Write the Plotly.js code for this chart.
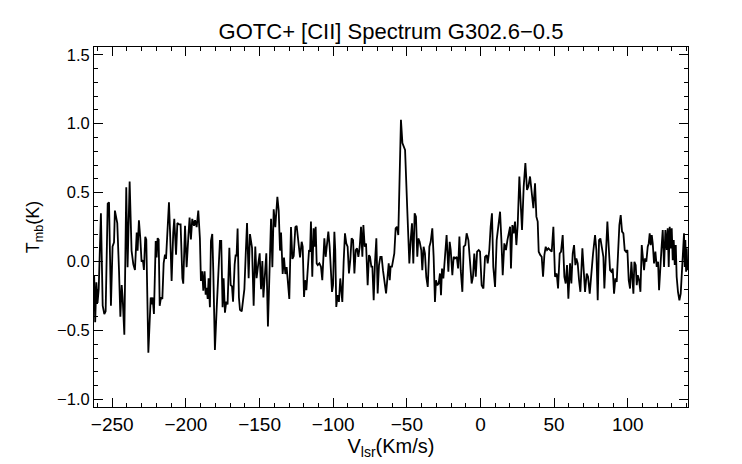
<!DOCTYPE html>
<html>
<head>
<meta charset="utf-8">
<script src="https://cdn.plot.ly/plotly-3.0.1.min.js"></script>
<style>html,body{margin:0;padding:0;background:#fff;}#chart{width:742px;height:464px;}</style>
</head>
<body>
<div id="chart"></div>
<script>
// Velocity channels (km/s)
const velocity = [
-262.3,-261.6,-260.8,-260.0,-259.2,-258.5,-257.7,-256.5,-255.4,-254.5,-253.1,-252.2,-250.9,-249.8,-248.8,-248.2,-247.0,-246.6,-245.4,-244.5,-243.6,-242.96,-241.8,-240.5,-239.6,-238.2,-236.9,-235.7,-234.6,-233.4,-232.8,-231.9,-230.97,-230.1,-229.2,-228.5,-227.6,-226.9,-225.5,-223.9,-223.3,-222.6,-221.7,-220.5,-219.9,-219.2,-218.5,-217.8,-216.9,-216.0,-215.1,-214.2,-213.5,-212.6,-211.5,-210.6,-209.7,-208.6,-207.9,-206.7,-205.8,-204.7,-203.6,-202.4,-201.8,-200.6,-199.5,-198.4,-197.5,-196.6,-195.7,-194.5,-193.8,
-192.7,-191.6,-190.5,-189.8,-188.9,-188.2,-187.3,-186.6,-185.9,-185.2,-184.6,-183.7,-183.0,-182.1,-181.4,-180.3,-179.1,-178.0,-176.9,-176.0,-175.1,-174.4,-173.5,-172.6,-171.7,-170.5,-169.6,-168.7,-168.0,-166.9,-166.2,-165.6,-164.9,-164.0,-163.3,-162.1,-161.0,-160.3,-159.4,-158.5,-157.4,-156.5,-155.1,-154.0,-152.9,-152.0,-150.8,-149.9,-149.0,-148.1,-147.4,-146.3,-145.4,-144.3,-143.4,-142.2,-141.3,-140.4,-139.3,-137.9,-137.0,-136.1,-135.4,-134.3,-133.4,-132.5,-131.6,-130.5,-129.8,-128.65,-127.7,-126.8,-125.7,-124.8,-123.7,-122.5,
-121.4,-120.7,-119.8,-119.1,-118.2,-117.3,-116.4,-115.7,-115.1,-114.2,-113.3,-112.6,-111.9,-111.2,-110.5,-109.4,-108.3,-107.4,-106.0,-105.1,-104.2,-103.3,-102.4,-101.5,-100.8,-100.1,-99.2,-98.6,-97.9,-97.0,-96.1,-95.2,-94.5,-93.8,-92.9,-92.0,-91.1,-90.2,-89.3,-88.4,-87.5,-86.5,-85.6,-84.7,-83.8,-82.9,-82.0,-81.1,-80.2,-79.5,-78.6,-77.7,-76.6,-75.7,-75.0,-74.1,-73.4,-72.5,-71.6,-70.7,-69.8,-68.9,-68.0,-67.1,-66.2,-65.3,-64.1,-63.2,-62.3,-61.6,-61.0,-60.1,-59.2,-58.5,-57.6,-56.7,-55.8,-54.9,-54.0,-53.0,-52.1,-51.2,
-49.65,-48.3,-47.4,-46.5,-45.6,-44.7,-43.8,-42.9,-42.2,-41.3,-40.2,-39.5,-38.6,-37.7,-36.8,-35.8,-34.7,-33.8,-32.7,-31.8,-30.9,-30.2,-29.3,-28.4,-27.5,-26.8,-26.1,-25.2,-24.1,-23.0,-21.8,-20.9,-20.2,-19.1,-18.2,-17.3,-16.1,-15.2,-14.3,-13.4,-12.3,-11.4,-10.3,-9.4,-8.2,-7.1,-6.0,-5.1,-4.2,-3.2,-2.3,-1.2,-0.3,0.8,2.0,3.1,4.2,4.9,6.0,6.9,7.8,8.7,9.9,11.0,12.1,13.3,14.2,15.1,16.2,17.3,18.3,19.2,20.1,
20.7,21.65,22.55,23.46,24.37,25.27,26.4,27.31,28.21,29.35,30.48,31.61,32.52,33.65,34.78,35.91,37.04,37.95,38.85,39.53,40.66,41.57,42.48,43.38,44.29,45.19,46.1,47.0,48.36,49.49,50.62,51.76,52.66,53.79,54.7,55.83,56.96,57.87,58.77,59.68,60.81,61.71,62.62,63.53,64.43,65.11,66.02,66.92,67.83,69.19,70.09,71.0,72.13,73.03,74.17,75.07,76.43,77.79,78.69,79.6,80.5,81.41,82.31,83.45,84.12,
85.25,86.16,87.07,87.97,88.88,89.78,90.69,91.59,92.5,93.4,94.31,95.21,96.12,97.03,97.93,98.84,99.74,100.65,101.55,102.46,103.36,103.82,104.5,105.4,106.1,106.8,107.7,108.6,109.5,110.15,111.06,111.74,112.6,113.55,114.23,114.9,115.6,116.3,116.95,117.85,118.76,119.66,120.57,121.25,121.93,122.83,123.74,124.64,125.55,126.45,127.13,127.81,128.49,129.17,129.85,130.53,131.2,131.9,132.6,133.2,134.1,135.05,135.96,136.87,137.55,138.2,138.7,139.1,139.6,140.0,140.5
];
// Main-beam brightness temperature (K)
const tmb = [
-0.10,-0.44,-0.15,-0.30,-0.20,0.00,0.35,-0.32,-0.38,-0.36,0.42,0.43,-0.32,0.11,0.14,0.37,0.30,0.28,-0.07,-0.40,-0.17,-0.26,-0.53,0.54,-0.04,0.58,0.08,-0.02,-0.06,0.21,0.08,0.30,0.17,0.00,0.01,-0.06,0.18,0.16,-0.66,-0.26,-0.31,-0.26,-0.38,0.15,0.03,0.17,0.16,-0.32,-0.26,-0.27,-0.01,0.05,0.02,0.22,0.43,0.17,-0.14,0.21,0.31,0.05,0.28,0.27,0.27,-0.12,-0.16,0.26,-0.04,0.17,0.32,0.16,0.31,0.26,0.30,
0.25,0.37,0.17,-0.14,-0.07,-0.21,-0.07,-0.24,-0.19,-0.27,-0.12,-0.33,0.15,0.20,-0.07,-0.64,-0.34,-0.07,0.15,0.15,-0.33,-0.12,-0.37,-0.29,-0.31,0.10,-0.17,-0.18,-0.29,-0.02,0.05,0.04,0.24,-0.26,-0.35,-0.36,-0.24,-0.20,0.05,0.28,-0.12,0.20,0.10,-0.32,0.11,-0.12,-0.01,0.06,-0.20,0.005,-0.26,-0.07,0.06,-0.47,-0.03,0.31,-0.04,0.38,0.25,0.47,0.37,0.08,0.21,-0.09,0.03,-0.09,-0.04,-0.17,-0.27,0.25,0.02,0.04,0.25,0.26,0.17,0.03,
0.144,0.108,-0.256,-0.135,-0.207,-0.037,0.084,0.072,0.290,-0.110,0.241,0.108,0.253,-0.013,-0.025,-0.013,-0.037,-0.134,0.169,0.035,0.108,0.217,0.108,-0.159,-0.219,-0.171,0.217,0.084,-0.328,-0.243,-0.292,-0.122,-0.243,-0.292,-0.001,0.205,0.132,0.108,-0.086,0.011,0.169,0.156,-0.086,0.084,0.096,0.035,0.108,0.253,0.035,0.265,0.108,0.132,-0.171,0.047,0.035,-0.037,-0.037,-0.280,-0.001,0.169,-0.231,-0.025,0.035,0.035,-0.062,-0.134,-0.231,-0.122,-0.013,-0.134,-0.037,-0.037,0.035,0.060,0.241,0.253,0.193,0.569,1.029,0.859,0.835,0.810,
0.362,-0.013,0.156,0.278,-0.013,0.350,0.326,0.035,0.168,0.144,0.084,-0.062,0.108,0.059,-0.110,-0.183,0.108,0.144,0.241,0.035,-0.292,-0.135,-0.171,-0.159,-0.086,-0.244,-0.050,-0.122,0.035,0.193,-0.074,0.144,0.084,-0.098,0.035,0.023,0.035,-0.050,0.181,-0.062,-0.219,0.108,0.120,0.205,0.156,-0.013,-0.159,-0.110,0.059,-0.110,0.072,0.084,0.072,-0.171,-0.195,0.035,0.047,-0.013,0.084,0.253,0.350,-0.038,-0.183,0.156,0.265,0.362,0.156,-0.098,0.132,0.084,0.156,0.205,0.253,
-0.050,0.265,0.205,0.290,0.120,0.265,0.617,0.447,0.229,0.544,0.714,0.520,0.544,0.617,0.484,0.387,0.568,0.326,0.290,0.072,0.047,0.035,-0.110,0.047,0.108,0.084,0.096,0.084,0.072,0.253,-0.110,-0.086,-0.195,0.059,0.072,0.193,-0.110,-0.159,-0.025,-0.268,-0.013,-0.159,0.059,0.120,-0.025,0.023,-0.013,-0.135,-0.219,0.096,-0.086,-0.219,-0.086,-0.110,-0.232,-0.086,0.059,0.193,0.084,-0.280,0.156,0.168,0.120,0.035,-0.195,
0.120,0.290,0.108,-0.062,-0.074,-0.050,-0.232,-0.122,-0.147,0.108,0.265,0.338,0.217,0.205,0.084,0.072,0.084,-0.135,-0.195,-0.001,-0.135,-0.232,-0.001,-0.025,-0.171,-0.098,-0.135,-0.219,0.120,0.047,-0.062,0.023,-0.001,0.108,0.132,0.205,0.120,0.193,0.132,-0.013,0.072,-0.038,-0.001,-0.207,-0.025,0.084,0.229,-0.038,0.229,0.084,0.241,-0.038,0.253,0.096,0.241,0.011,0.156,-0.025,0.120,-0.110,-0.219,-0.280,-0.232,-0.038,0.096,0.205,-0.038,0.156,-0.074,0.096,-0.062
];
const chartTitle = 'GOTC+ [CII] Spectrum G302.6\u22120.5';
const xTitle = 'V<sub>lsr</sub>(Km/s)';
const yTitle = 'T<sub>mb</sub>(K)';

const font = {family: '"Liberation Sans", Arial, Helvetica, sans-serif', color: '#000'};

Plotly.newPlot('chart', [{
  x: velocity,
  y: tmb,
  type: 'scatter',
  mode: 'lines',
  line: {color: '#000', width: 1.8},
  hoverinfo: 'skip'
}], {
  width: 742,
  height: 464,
  margin: {l: 94, r: 54, t: 47, b: 57},
  paper_bgcolor: '#fff',
  plot_bgcolor: '#fff',
  showlegend: false,
  font: Object.assign({size: 16}, font),
  title: {text: chartTitle, font: Object.assign({size: 22}, font), x: 0.5, xref: 'paper', xanchor: 'center', y: 1 - 31/464, yref: 'container', yanchor: 'middle'},
  xaxis: {
    range: [-262.4, 140.9],
    showgrid: false, zeroline: false,
    showline: true, linecolor: '#000', linewidth: 1, mirror: 'ticks',
    ticks: 'inside', ticklen: 9, tickwidth: 1, tickcolor: '#000',
    tick0: 0, dtick: 50,
    tickfont: Object.assign({size: 19}, font),
    minor: {ticks: 'inside', ticklen: 4, tickwidth: 1, tickcolor: '#000', dtick: 10, tick0: 0, showgrid: false},
    title: {text: xTitle, font: Object.assign({size: 20}, font), standoff: 3}
  },
  yaxis: {
    range: [-1.054, 1.556],
    showgrid: false, zeroline: false,
    showline: true, linecolor: '#000', linewidth: 1, mirror: 'ticks',
    ticks: 'inside', ticklen: 9, tickwidth: 1, tickcolor: '#000',
    tick0: 0, dtick: 0.5, tickformat: '.1f',
    tickfont: Object.assign({size: 16.5}, font),
    minor: {ticks: 'inside', ticklen: 4, tickwidth: 1, tickcolor: '#000', dtick: 0.1, tick0: 0, showgrid: false},
    title: {text: yTitle, font: Object.assign({size: 18}, font), standoff: 12}
  }
}, {staticPlot: true, displayModeBar: false});
</script>
</body>
</html>
